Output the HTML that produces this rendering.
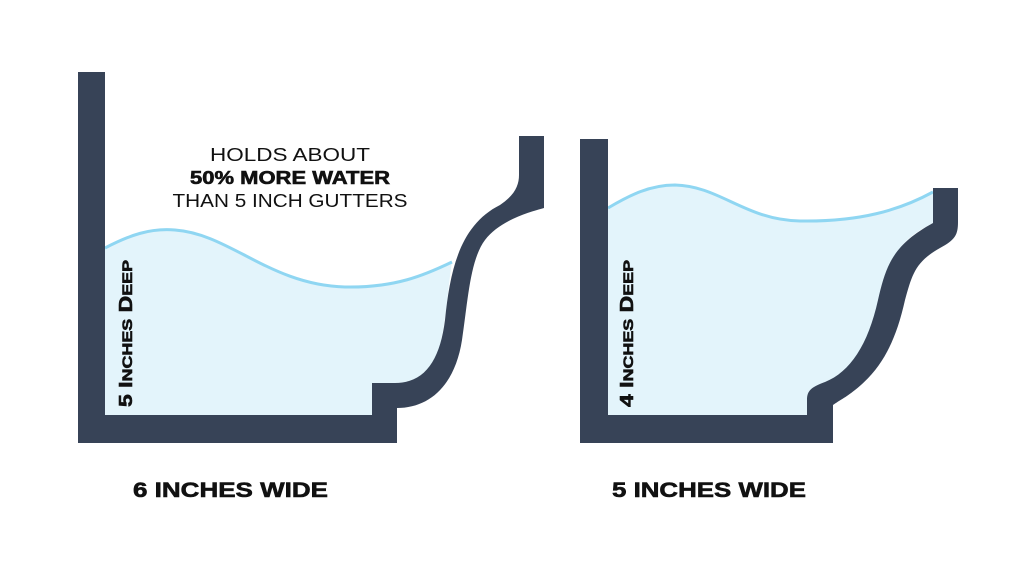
<!DOCTYPE html>
<html><head><meta charset="utf-8"><style>
html,body{margin:0;padding:0;background:#fff;}
svg{display:block;}
text{font-family:"Liberation Sans",sans-serif;fill:#111;}
.b{stroke:#111;stroke-width:0.6;}
</style></head><body>
<svg width="1024" height="563" viewBox="0 0 1024 563" xmlns="http://www.w3.org/2000/svg">
<rect width="1024" height="563" fill="#fff"/>
<path d="M105,248 C130,235 150,228 175,230 C230,234 270,285 345,287 C395,288 425,275 452,262 C446,300 445,350 430,370 C420,380 410,383 395,383 H372 V415 H105 Z" fill="#e3f4fb"/>
<path d="M105,248 C130,235 150,228 175,230 C230,234 270,285 345,287 C395,288 425,275 452,262" fill="none" stroke="#8fd6f2" stroke-width="3"/>
<path d="M78,72 H105 V415 H372 V383 H395 C425,383 440,360 445,320 C450,270 460,225 500,205 C515,195 519,185 519,175 V136 H544 V208 C530,212 500,220 485,240 C470,260 468,300 462,340 C455,385 430,408 397,408 V443 H78 Z" fill="#374357"/>
<path d="M608,208 C630,195 650,185 675,185 C720,186 745,220 800,221 C860,222 900,210 933,192 V223 C910,235 895,245 885,285 C875,330 865,355 840,375 C825,385 810,385 807,400 V415 H608 Z" fill="#e3f4fb"/>
<path d="M608,208 C630,195 650,185 675,185 C720,186 745,220 800,221 C860,222 900,210 933,192" fill="none" stroke="#8fd6f2" stroke-width="3"/>
<path d="M580,139 H608 V415 H807 V400 C807,390 812,387 825,382 C850,372 868,345 878,300 C886,265 893,245 933,223 V188 H958 V222 C958,235 955,240 940,248 C915,262 912,275 905,300 C895,345 880,370 855,390 C845,398 840,400 833,405 V443 H580 Z" fill="#374357"/>
<text x="290" y="161" font-size="18" text-anchor="middle" textLength="160" lengthAdjust="spacingAndGlyphs">HOLDS ABOUT</text>
<text x="290" y="184" font-size="18" font-weight="bold" class="b" text-anchor="middle" textLength="200" lengthAdjust="spacingAndGlyphs">50% MORE WATER</text>
<text x="290" y="207" font-size="18" text-anchor="middle" textLength="235" lengthAdjust="spacingAndGlyphs">THAN 5 INCH GUTTERS</text>
<text transform="translate(132,407) rotate(-90)" font-size="18" font-weight="bold" class="b" textLength="147" lengthAdjust="spacingAndGlyphs">5 I<tspan font-size="14">NCHES</tspan> D<tspan font-size="14">EEP</tspan></text>
<text transform="translate(633,407) rotate(-90)" font-size="18" font-weight="bold" class="b" textLength="147" lengthAdjust="spacingAndGlyphs">4 I<tspan font-size="14">NCHES</tspan> D<tspan font-size="14">EEP</tspan></text>
<text x="133" y="497" font-size="21" font-weight="bold" class="b" textLength="195" lengthAdjust="spacingAndGlyphs">6 INCHES WIDE</text>
<text x="612" y="497" font-size="21" font-weight="bold" class="b" textLength="194" lengthAdjust="spacingAndGlyphs">5 INCHES WIDE</text>
</svg>
</body></html>
